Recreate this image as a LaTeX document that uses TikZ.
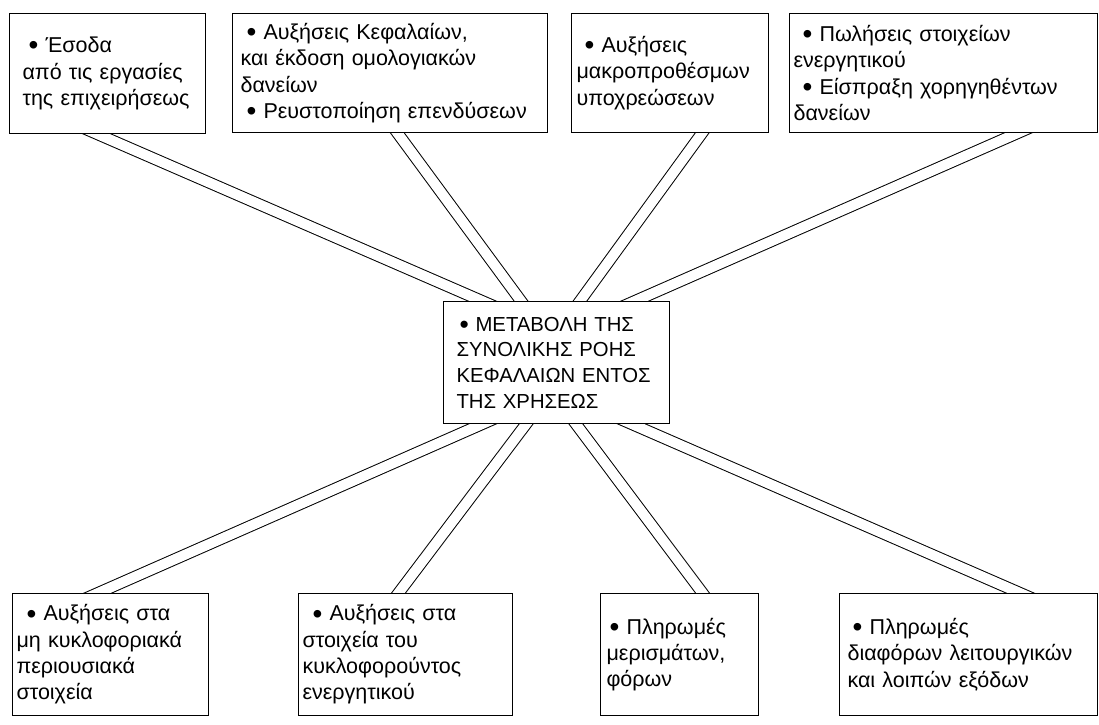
\documentclass[tikz,border=0pt]{standalone}
\usepackage{fontspec}
\usepackage{graphicx}
\setmainfont{Liberation Sans}
\usetikzlibrary{backgrounds,calc}
\newcommand\bul{\raisebox{-0.1em}{\scalebox{1.3}{•}}}
\begin{document}
\begin{tikzpicture}[x=1pt,y=-1pt,
  box/.style={draw, line width=1.1pt, fill=white, align=left, anchor=north west,
    inner ysep=0pt, font=\fontsize{21.5}{26.3}\selectfont},
  conn/.style={draw=black, line width=1pt, double=white, double distance=10pt,
    shorten <=-20pt, shorten >=-20pt}]
\useasboundingbox (0,0) rectangle (1099,724);
% top row
\node[box, minimum width=196pt, minimum height=120pt, inner xsep=13pt, text width=170pt] (T1) at (9,13)
  {\hspace{6pt}\bul\ Έσοδα\\από τις εργασίες\\της επιχειρήσεως};
\node[box, minimum width=315pt, minimum height=119pt, inner xsep=8pt, text width=299pt] (T2) at (232,13)
  {\hspace{6pt}\bul\ Αυξήσεις Κεφαλαίων,\\και έκδοση ομολογιακών\\δανείων\\\hspace{6pt}\bul\ Ρευστοποίηση επενδύσεων};
\node[box, minimum width=197pt, minimum height=119pt, inner xsep=5pt, text width=187pt] (T3) at (571,13)
  {\hspace{8pt}\bul\ Αυξήσεις\\μακροπροθέσμων\\υποχρεώσεων};
\node[box, minimum width=308pt, minimum height=119pt, inner xsep=4pt, text width=300pt] (T4) at (789,13)
  {\hspace{9pt}\bul\ Πωλήσεις στοιχείων\\ενεργητικού\\\hspace{9pt}\bul\ Είσπραξη χορηγηθέντων\\δανείων};
% centre
\node[box, minimum width=226pt, minimum height=122pt, inner xsep=13pt, text width=200pt,
      font=\fontsize{20.3}{25.7}\selectfont] (C) at (443,301)
  {\hspace{3pt}\bul\ ΜΕΤΑΒΟΛΗ ΤΗΣ\\ΣΥΝΟΛΙΚΗΣ ΡΟΗΣ\\ΚΕΦΑΛΑΙΩΝ ΕΝΤΟΣ\\ΤΗΣ ΧΡΗΣΕΩΣ};
% bottom row
\node[box, minimum width=196pt, minimum height=122pt, inner xsep=4pt, text width=188pt] (B1) at (12,593)
  {\hspace{10pt}\bul\ Αυξήσεις στα\\μη κυκλοφοριακά\\περιουσιακά\\στοιχεία};
\node[box, minimum width=214pt, minimum height=122pt, inner xsep=4pt, text width=206pt] (B2) at (298,593)
  {\hspace{10pt}\bul\ Αυξήσεις στα\\στοιχεία του\\κυκλοφορούντος\\ενεργητικού};
\node[box, minimum width=158pt, minimum height=122pt, inner xsep=6pt, text width=146pt] (B3) at (600,593)
  {\hspace{3pt}\bul\ Πληρωμές\\μερισμάτων,\\φόρων};
\node[box, minimum width=258pt, minimum height=122pt, inner xsep=8pt, text width=242pt] (B4) at (839,593)
  {\hspace{5pt}\bul\ Πληρωμές\\διαφόρων λειτουργικών\\και λοιπών εξόδων};
% connectors
\begin{pgfonlayer}{background}
\draw[conn] ($(T1.south west)+(88.5,0)$) -- ($(C.north west)+(39,0)$);
\draw[conn] ($(T2.south west)+(165.5,0)$) -- ($(C.north west)+(78,0)$);
\draw[conn] ($(T3.south west)+(131,0)$) -- ($(C.north west)+(137,0)$);
\draw[conn] ($(T4.south west)+(228.5,0)$) -- ($(C.north west)+(192,0)$);
\draw[conn] ($(B1.north west)+(86,0)$) -- ($(C.south west)+(39,0)$);
\draw[conn] ($(B2.north west)+(100.5,0)$) -- ($(C.south west)+(83,0)$);
\draw[conn] ($(B3.north west)+(102.5,0)$) -- ($(C.south west)+(133,0)$);
\draw[conn] ($(B4.north west)+(181,0)$) -- ($(C.south west)+(189,0)$);
\end{pgfonlayer}
\end{tikzpicture}
\end{document}
